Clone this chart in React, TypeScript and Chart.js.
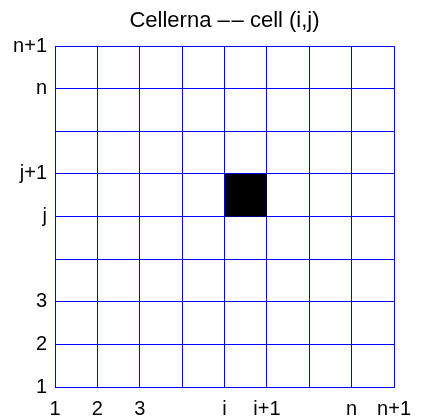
import React, { useEffect, useRef } from "react";
import { Chart, registerables } from "chart.js";

Chart.register(...registerables);

const gridMin = 1;
const gridMax = 9;
const xTickLabels: Record<number, string> = { 1: "1", 2: "2", 3: "3", 5: "i", 6: "i+1", 8: "n", 9: "n+1" };
const yTickLabels: Record<number, string> = { 1: "1", 2: "2", 3: "3", 5: "j", 6: "j+1", 8: "n", 9: "n+1" };
const cellI = 5;
const cellJ = 5;
const titleText = "Cellerna –\u200a– cell (i,j)";

const fontFamily = "'Liberation Sans', Arial, sans-serif";

const centeredTitle = {
  id: "centeredTitle",
  afterDraw(chart: any) {
    const { ctx, chartArea } = chart;
    ctx.save();
    ctx.fillStyle = "#000";
    ctx.font = `22px ${fontFamily}`;
    ctx.textAlign = "center";
    ctx.textBaseline = "middle";
    ctx.fillText(titleText, (chartArea.left + chartArea.right) / 2, 21);
    ctx.restore();
  },
};

export default function App() {
  const ref = useRef<HTMLCanvasElement | null>(null);
  useEffect(() => {
    document.body.style.margin = "0";
    const ctx = ref.current!;
    const font = { family: fontFamily, size: 20 };
    const chart = new Chart(ctx, {
      type: "scatter",
      data: {
        datasets: [
          {
            data: [{ x: cellI, y: cellJ + 1 }, { x: cellI + 1, y: cellJ + 1 }],
            showLine: true,
            borderColor: "#000",
            borderWidth: 0,
            backgroundColor: "#000",
            pointRadius: 0,
            fill: "+1",
          },
          {
            data: [{ x: cellI, y: cellJ }, { x: cellI + 1, y: cellJ }],
            showLine: true,
            borderColor: "#000",
            borderWidth: 0,
            backgroundColor: "#000",
            pointRadius: 0,
            fill: false,
          },
        ],
      },
      options: {
        animation: false,
        responsive: false,
        layout: { padding: { left: 0, right: 22, top: 46, bottom: 0 } },
        plugins: {
          legend: { display: false },
          tooltip: { enabled: false },
          title: { display: false },
        },
        scales: {
          x: {
            type: "linear",
            min: gridMin,
            max: gridMax,
            border: { display: true, color: "#0000ff", width: 1 },
            grid: { color: "#0000ff", lineWidth: 1, drawTicks: false },
            ticks: {
              stepSize: 1,
              color: "#000",
              font,
              padding: 10,
              maxRotation: 0,
              autoSkip: false,
              callback: (v: any) => xTickLabels[v as number] ?? "",
            },
            afterFit: (s: any) => {
              s.height = 32;
            },
          },
          y: {
            type: "linear",
            min: gridMin,
            max: gridMax,
            border: { display: true, color: "#0000ff", width: 1 },
            grid: { color: "#0000ff", lineWidth: 1, drawTicks: false },
            ticks: {
              stepSize: 1,
              color: "#000",
              font,
              padding: 8,
              autoSkip: false,
              callback: (v: any) => yTickLabels[v as number] ?? "",
            },
            afterFit: (s: any) => {
              s.width = 55;
            },
          },
        },
      },
      plugins: [centeredTitle],
    });
    return () => chart.destroy();
  }, []);
  return (
    <div style={{ width: 421, height: 419 }}>
      <canvas ref={ref} width={421} height={419} style={{ width: 421, height: 419 }} />
    </div>
  );
}
